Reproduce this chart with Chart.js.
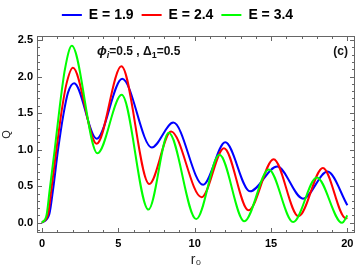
<!DOCTYPE html>
<html>
<head>
<meta charset="utf-8">
<script src="https://cdn.jsdelivr.net/npm/chart.js@4/dist/chart.umd.min.js"></script>
<style>
  html, body { margin: 0; padding: 0; background: #fff; }
  #wrap { width: 360px; height: 270px; }
</style>
</head>
<body>
<div id="wrap"><canvas id="chart"></canvas></div>
<script>
// values (r0, Q) at turning points and along the first rise
const rBlue = [0, 0.48, 0.72, 1.05, 1.4, 1.7, 2.1, 3.58, 5.25, 7.19, 8.6, 10.55, 12.0, 13.62, 15.4, 17.1, 18.7, 20];
const qBlue = [0, 0.12, 0.45, 1.0, 1.48, 1.78, 1.91, 1.15, 1.97, 1.03, 1.37, 0.52, 1.10, 0.43, 0.77, 0.33, 0.70, 0.24];

const rRed = [0, 0.4, 0.61, 0.94, 1.3, 1.6, 2.02, 3.58, 5.2, 7.02, 8.45, 10.45, 11.92, 13.53, 15.17, 16.8, 18.4, 19.9, 20];
const qRed = [0, 0.12, 0.45, 1.0, 1.55, 1.9, 2.12, 1.08, 2.14, 0.53, 1.25, 0.35, 1.02, 0.17, 0.87, 0.09, 0.75, 0.06, 0.07];

const rGreen = [0, 0.3, 0.5, 0.83, 1.16, 1.5, 1.95, 3.63, 5.22, 6.97, 8.3, 10.1, 11.62, 13.25, 14.85, 16.45, 18.0, 19.65, 20];
const qGreen = [0, 0.11, 0.45, 1.0, 1.59, 2.1, 2.42, 0.95, 1.75, 0.18, 1.23, 0.05, 0.93, 0.02, 0.73, 0.01, 0.62, 0.0, 0.1];

const seriesNames = ['E = 1.9', 'E = 2.4', 'E = 3.4'];
const xTickValues = [0, 5, 10, 15, 20];
const yTickValues = [0, 0.5, 1.0, 1.5, 2.0, 2.5];

const toPoints = (rs, qs) => rs.map((r, i) => ({ x: r, y: qs[i] }));

// frame with inward ticks on all four sides, plus the panel texts
const frameTicks = {
  id: 'frameTicks',
  afterDatasetsDraw(chart) {
    const { ctx, chartArea: a, scales: { x, y } } = chart;
    ctx.save();
    ctx.strokeStyle = '#666';
    ctx.lineWidth = 1;
    ctx.strokeRect(a.left + 0.5, a.top + 0.5, a.width - 1, a.height - 1);
    ctx.beginPath();
    for (let v = 0; v <= 20; v++) {
      const px = Math.round(x.getPixelForValue(v)) + 0.5;
      const len = v % 5 === 0 ? 5 : 3;
      ctx.moveTo(px, a.bottom); ctx.lineTo(px, a.bottom - len);
      ctx.moveTo(px, a.top); ctx.lineTo(px, a.top + len);
    }
    for (let k = -1; k <= 25; k++) {
      const py = Math.round(y.getPixelForValue(k / 10)) + 0.5;
      const len = k % 5 === 0 ? 5 : 3;
      ctx.moveTo(a.left, py); ctx.lineTo(a.left + len, py);
      ctx.moveTo(a.right, py); ctx.lineTo(a.right - len, py);
    }
    ctx.stroke();

    // phi_i=0.5 , Delta_1=0.5
    ctx.fillStyle = '#111';
    ctx.textBaseline = 'alphabetic';
    let cx = a.left + 60;
    const by = a.top + 19;
    const parts = [
      ['italic bold 13px "Liberation Sans"', 'ϕ', 0],
      ['italic bold 9px "Liberation Sans"', 'i', 3],
      ['bold 12px "Liberation Sans"', '=0.5 , Δ', 0],
      ['bold 9px "Liberation Sans"', '1', 3],
      ['bold 12px "Liberation Sans"', '=0.5', 0]
    ];
    parts.forEach(([font, txt, dy]) => {
      ctx.font = font;
      ctx.fillText(txt, cx, by + dy);
      cx += ctx.measureText(txt).width;
    });
    ctx.font = 'bold 12px "Liberation Sans"';
    ctx.textAlign = 'right';
    ctx.fillText('(c)', a.right - 7, by);
    ctx.restore();
  }
};

const legendHeight = {
  id: 'legendHeight',
  beforeInit(chart) {
    const fit = chart.legend.fit;
    chart.legend.fit = function () {
      fit.bind(chart.legend)();
      this.height = 36;
    };
  }
};

const ctx = document.getElementById('chart').getContext('2d');
new Chart(ctx, {
  type: 'line',
  data: {
    datasets: [
      {
        label: seriesNames[0],
        data: toPoints(rBlue, qBlue),
        borderColor: 'rgb(0, 0, 255)',
        backgroundColor: 'rgb(0, 0, 255)',
        order: 3
      },
      {
        label: seriesNames[1],
        data: toPoints(rRed, qRed),
        borderColor: 'rgb(255, 0, 0)',
        backgroundColor: 'rgb(255, 0, 0)',
        order: 2
      },
      {
        label: seriesNames[2],
        data: toPoints(rGreen, qGreen),
        borderColor: 'rgb(0, 255, 0)',
        backgroundColor: 'rgb(0, 255, 0)',
        order: 1
      }
    ]
  },
  options: {
    responsive: true,
    maintainAspectRatio: false,
    animation: false,
    layout: { padding: { left: 0, right: 5, top: 0, bottom: 0 } },
    datasets: {
      line: {
        borderWidth: 2,
        pointRadius: 0,
        pointStyle: 'line',
        fill: false,
        cubicInterpolationMode: 'monotone'
      }
    },
    plugins: {
      tooltip: { enabled: false },
      legend: {
        position: 'top',
        labels: {
          usePointStyle: true,
          pointStyleWidth: 20,
          boxHeight: 14,
          padding: 8,
          color: '#000',
          font: { family: '"Liberation Sans"', size: 14, weight: 'bold' },
          sort: (a, b) => a.datasetIndex - b.datasetIndex
        }
      }
    },
    scales: {
      x: {
        type: 'linear',
        min: -0.33,
        max: 20.5,
        afterBuildTicks: scale => { scale.ticks = xTickValues.map(v => ({ value: v })); },
        afterFit: scale => { scale.height = 37; },
        grid: { display: false, drawTicks: false },
        border: { display: false },
        ticks: {
          padding: 4,
          color: '#000',
          font: { family: '"Liberation Sans"', size: 11, weight: 'bold' },
          maxRotation: 0,
          callback: v => String(v)
        },
        title: {
          display: true,
          text: 'r₀',
          color: '#222',
          padding: { top: 0, bottom: 1 },
          font: { family: '"Liberation Sans"', size: 14 }
        }
      },
      y: {
        type: 'linear',
        min: -0.14,
        max: 2.555,
        afterBuildTicks: scale => { scale.ticks = yTickValues.map(v => ({ value: v })); },
        afterFit: scale => { scale.width = 37; },
        grid: { display: false, drawTicks: false },
        border: { display: false },
        ticks: {
          padding: 4,
          color: '#000',
          font: { family: '"Liberation Sans"', size: 11, weight: 'bold' },
          callback: v => Number(v).toFixed(1)
        },
        title: {
          display: true,
          text: 'Q',
          color: '#222',
          padding: 0,
          font: { family: '"Liberation Sans"', size: 11 }
        }
      }
    }
  },
  plugins: [frameTicks, legendHeight]
});
</script>
</body>
</html>
